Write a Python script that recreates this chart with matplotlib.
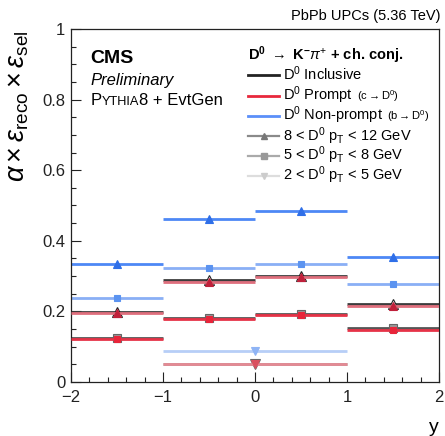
import numpy as np
import matplotlib
matplotlib.use("Agg")
import matplotlib.pyplot as plt
from matplotlib.lines import Line2D
from matplotlib.offsetbox import TextArea, HPacker, AnchoredOffsetbox

plt.rcParams['font.family'] = ['Liberation Sans', 'DejaVu Sans']
plt.rcParams['mathtext.fontset'] = 'custom'
plt.rcParams['mathtext.rm'] = 'Liberation Sans'
plt.rcParams['mathtext.it'] = 'Liberation Sans:italic'
plt.rcParams['mathtext.bf'] = 'Liberation Sans:bold'

# rapidity bins
edges_fine = [-2, -1, 0, 1, 2]
edges_wide = [-1, 1]

# 8 < pT < 12 GeV
incl_8_12 = [0.199, 0.289, 0.301, 0.220]
prompt_8_12 = [0.196, 0.284, 0.297, 0.216]
nonprompt_8_12 = [0.334, 0.461, 0.485, 0.355]
# 5 < pT < 8 GeV
incl_5_8 = [0.125, 0.181, 0.192, 0.152]
prompt_5_8 = [0.122, 0.178, 0.189, 0.147]
nonprompt_5_8 = [0.238, 0.322, 0.333, 0.277]
# 2 < pT < 5 GeV (|y| < 1 only)
incl_2_5 = [0.052]
prompt_2_5 = [0.050]
nonprompt_2_5 = [0.088]

W, H = 445, 436
fig = plt.figure(figsize=(W / 100, H / 100), dpi=100)
ax = fig.add_axes([0.1596, 0.1239, 0.8270, 0.8096])


def draw(edges, vals, color, marker, ms, mfc, mec, lw=2.0, z=2):
    lo = np.array(edges[:-1], dtype=float)
    hi = np.array(edges[1:], dtype=float)
    ax.hlines(vals, lo, hi, colors=color, lw=lw, zorder=z)
    ax.plot((lo + hi) / 2, vals, ls='none', marker=marker, ms=ms,
            mfc=mfc, mec=mec, mew=0.8, zorder=z + 0.5)


# non-prompt (blue)
draw(edges_fine, nonprompt_8_12, '#4d88f5', '^', 5.5, '#2f6fe8', '#2f6fe8')
draw(edges_fine, nonprompt_5_8, '#8aaff5', 's', 5.0, '#5b93f0', '#5b93f0')
draw(edges_wide, nonprompt_2_5, '#b7cef7', 'v', 5.5, '#8fb4f5', '#8fb4f5')
# inclusive (black)
draw(edges_fine, incl_8_12, '#3c3c3c', '^', 6.5, 'white', '#222222')
draw(edges_fine, incl_5_8, '#555555', 's', 6.0, '#999999', '#666666')
draw(edges_wide, incl_2_5, '#9a9a9a', 'v', 6.5, '#aaaaaa', '#666666')
# prompt (red)
draw(edges_fine, prompt_8_12, '#df6f7d', '^', 5.5, '#c0203a', '#c0203a', z=3)
draw(edges_fine, prompt_5_8, '#e63347', 's', 5.0, '#e8253a', '#e8253a', z=3)
draw(edges_wide, prompt_2_5, '#e48a94', 'v', 5.5, '#d9505f', '#d9505f', z=3)

ax.set_xlim(-2, 2)
ax.set_ylim(0, 1)
ax.set_xticks([-2, -1, 0, 1, 2])
ax.set_xticklabels(['\u22122', '\u22121', '0', '1', '2'])
ax.set_yticks([0, 0.2, 0.4, 0.6, 0.8, 1])
ax.set_yticklabels(['0', '0.2', '0.4', '0.6', '0.8', '1'])
ax.set_xticks(np.arange(-2, 2.01, 0.2), minor=True)
ax.set_yticks(np.arange(0, 1.001, 0.05), minor=True)
ax.tick_params(which='both', direction='in', labelsize=12, width=0.8,
               top=False, right=False, colors='#222222')
ax.tick_params(which='major', length=7)
ax.tick_params(which='minor', length=3.5)
ax.tick_params(axis='x', which='major', pad=6)
ax.tick_params(axis='y', which='major', pad=4)
for s in ax.spines.values():
    s.set_linewidth(0.9)
    s.set_color('#222222')

ax.set_ylabel(r'$\alpha\times\varepsilon_{\rm reco}\times\varepsilon_{\rm sel}$',
              fontsize=19.5, loc='top')
ax.yaxis.set_label_coords(-0.108, 0.995)
ax.set_xlabel('y', fontsize=14, loc='right', labelpad=10)

fig.text(0.989, 0.953, 'PbPb UPCs (5.36 TeV)', ha='right', va='baseline',
         fontsize=10.5)
fig.text(0.203, 0.856, 'CMS', fontsize=14, fontweight='bold', va='baseline')
fig.text(0.203, 0.805, 'Preliminary', fontsize=12, style='italic',
         va='baseline')
pyth = HPacker(children=[TextArea('P', textprops=dict(size=12)),
                         TextArea('YTHIA', textprops=dict(size=9.2)),
                         TextArea('8 + EvtGen', textprops=dict(size=12))],
               align='baseline', pad=0, sep=0)
ab = AnchoredOffsetbox(loc='lower left', child=pyth, pad=0, borderpad=0,
                       frameon=False, bbox_to_anchor=(0.203, 0.752),
                       bbox_transform=fig.transFigure)
fig.add_artist(ab)

# legend, laid out in figure pixels
leg_x0, leg_x1, txt_x = 248, 279, 283
header_y = 59.5
row_y = [80, 100, 120.5, 140.5, 160.5, 180.5]
leg_fs = 10.5


def fx(px):
    return px / W


def fy(py):
    return 1 - py / H


fig.text(fx(leg_x0), fy(header_y),
         r'$\mathbf{D^{0}}$ $\rightarrow$ $\mathbf{K^{-}}\pi^{+}$ + ch. conj.',
         fontsize=leg_fs, fontweight='bold', va='baseline')

leg_handles = [
    dict(color='#222222', lw=2, marker=None),
    dict(color='#e8283c', lw=2, marker=None),
    dict(color='#5b8ff9', lw=2, marker=None),
    dict(color='#8a8a8a', lw=1.6, marker='^', ms=4.5, mfc='#777777', mec='#777777'),
    dict(color='#aaaaaa', lw=1.6, marker='s', ms=4.5, mfc='#999999', mec='#999999'),
    dict(color='#dddddd', lw=1.6, marker='v', ms=4.5, mfc='#cccccc', mec='#cccccc'),
]
leg_labels = [
    r'D$^{0}$ Inclusive',
    r'D$^{0}$ Prompt',
    r'D$^{0}$ Non-prompt',
    r'8 < D$^{0}$ p$_{\mathregular{T}}$ < 12 GeV',
    r'5 < D$^{0}$ p$_{\mathregular{T}}$ < 8 GeV',
    r'2 < D$^{0}$ p$_{\mathregular{T}}$ < 5 GeV',
]
leg_small = [None, r'(c$\rightarrow$D$^{0}$)', r'(b$\rightarrow$D$^{0}$)',
             None, None, None]

fig.canvas.draw()
renderer = fig.canvas.get_renderer()
for yb, h, lab, small in zip(row_y, leg_handles, leg_labels, leg_small):
    yl = yb - 4.5
    mk = h.pop('marker')
    fig.add_artist(Line2D([fx(leg_x0), fx(leg_x1)], [fy(yl), fy(yl)],
                          transform=fig.transFigure, color=h['color'], lw=h['lw']))
    if mk:
        fig.add_artist(Line2D([fx((leg_x0 + leg_x1) / 2)], [fy(yl)], ls='none',
                              marker=mk, ms=h['ms'], mfc=h['mfc'], mec=h['mec'],
                              transform=fig.transFigure))
    t = fig.text(fx(txt_x), fy(yb), lab, fontsize=leg_fs, va='baseline')
    if small:
        bb = t.get_window_extent(renderer)
        fig.text(fx(bb.x1 + 4), fy(yb), small, fontsize=8, va='baseline')

fig.savefig('out.png', dpi=100)
